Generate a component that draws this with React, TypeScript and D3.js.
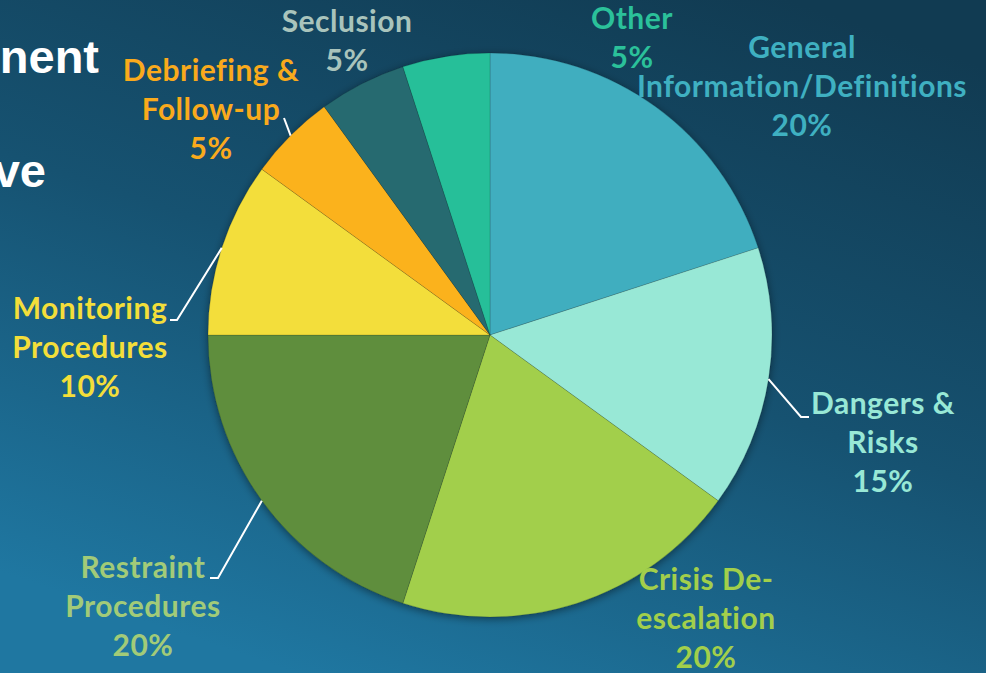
import React from 'react';
import * as d3 from 'd3';

// slices, clockwise from 12 o'clock
const categories = [
  'General Information/Definitions',
  'Dangers & Risks',
  'Crisis De-escalation',
  'Restraint Procedures',
  'Monitoring Procedures',
  'Debriefing & Follow-up',
  'Seclusion',
  'Other',
];
const values = [20, 15, 20, 20, 10, 5, 5, 5];
const sliceColors = ['#41AEBF', '#98E8D6', '#A2CF4B', '#5F8E3D', '#F3DE3A', '#FBB21F', '#276A70', '#26BF99'];
const labelColors = ['#3FB0C1', '#98E8D6', '#A2CF4B', '#A2CB78', '#F3DE3A', '#F9AA1C', '#A9C4BC', '#2BC19A'];
const labelLines = [
  ['General', 'Information/Definitions'],
  ['Dangers &', 'Risks'],
  ['Crisis De-', 'escalation'],
  ['Restraint', 'Procedures'],
  ['Monitoring', 'Procedures'],
  ['Debriefing &', 'Follow-up'],
  ['Seclusion'],
  ['Other'],
];

// label layout: text centre x, first baseline y, optional elbow for leader line
const labelLayout = [
  { x: 802, y: 58, elbow: null },
  { x: 883, y: 414, elbow: [801, 417, 809] },
  { x: 706, y: 590, elbow: null },
  { x: 143, y: 578, elbow: [218, 578, 210] },
  { x: 90, y: 319, elbow: [177, 320, 170] },
  { x: 211, y: 81, elbow: [284, 118, 284] },
  { x: 347, y: 32, elbow: null },
  { x: 632, y: 29, elbow: null },
];

const W = 986;
const H = 673;
const cx = 490;
const cy = 335;
const R = 282;
const lineH = 39;

export default function App() {
  const pie = d3.pie<number>().sort(null).value((d) => d)(values);
  const arc = d3.arc<d3.PieArcDatum<number>>().innerRadius(0).outerRadius(R);
  const edge = d3.arc<d3.PieArcDatum<number>>().innerRadius(R).outerRadius(R);

  return (
    <svg width={W} height={H} style={{ position: 'absolute', left: 0, top: 0 }}>
      <defs>
        <linearGradient id="bg" x1="0.8" y1="0" x2="0.3" y2="1">
          <stop offset="0" stopColor="#113B52" />
          <stop offset="0.5" stopColor="#165271" />
          <stop offset="1" stopColor="#1F77A1" />
        </linearGradient>
        <filter id="shadow" x="-20%" y="-20%" width="140%" height="140%">
          <feDropShadow dx="0" dy="2" stdDeviation="4" floodColor="#000" floodOpacity="0.45" />
        </filter>
      </defs>
      <rect width={W} height={H} fill="url(#bg)" />

      {/* title text cropped at the left edge in the source */}
      <g fontFamily="'Liberation Sans', Arial, sans-serif" fontWeight={900} fontSize={47} fill="#fff" textAnchor="end">
        <text x={99} y={73}>nent</text>
        <text x={46} y={187}>ve</text>
      </g>

      <g transform={`translate(${cx},${cy})`} filter="url(#shadow)">
        {pie.map((d, i) => (
          <path key={i} d={arc(d) || ''} fill={sliceColors[i]} stroke="rgba(0,0,0,0.18)" strokeWidth={0.8} />
        ))}
      </g>

      {pie.map((d, i) => {
        const L = labelLayout[i];
        if (!L.elbow) return null;
        const [px, py] = edge.centroid(d);
        const [ex, ey, tx] = L.elbow;
        return (
          <polyline
            key={'l' + i}
            points={`${cx + px},${cy + py} ${ex},${ey} ${tx},${ey}`}
            fill="none"
            stroke="#fff"
            strokeWidth={2}
          />
        );
      })}

      <g fontFamily="Lato, 'Open Sans', sans-serif" fontWeight={700} fontSize={30} letterSpacing={0.5} textAnchor="middle">
        {labelLines.map((lines, i) => {
          const L = labelLayout[i];
          const all = [...lines, `${values[i]}%`];
          return (
            <text key={'t' + i} fill={labelColors[i]}>
              {all.map((s, j) => (
                <tspan key={j} x={L.x} y={L.y + j * lineH}>
                  {s}
                </tspan>
              ))}
            </text>
          );
        })}
      </g>
    </svg>
  );
}
